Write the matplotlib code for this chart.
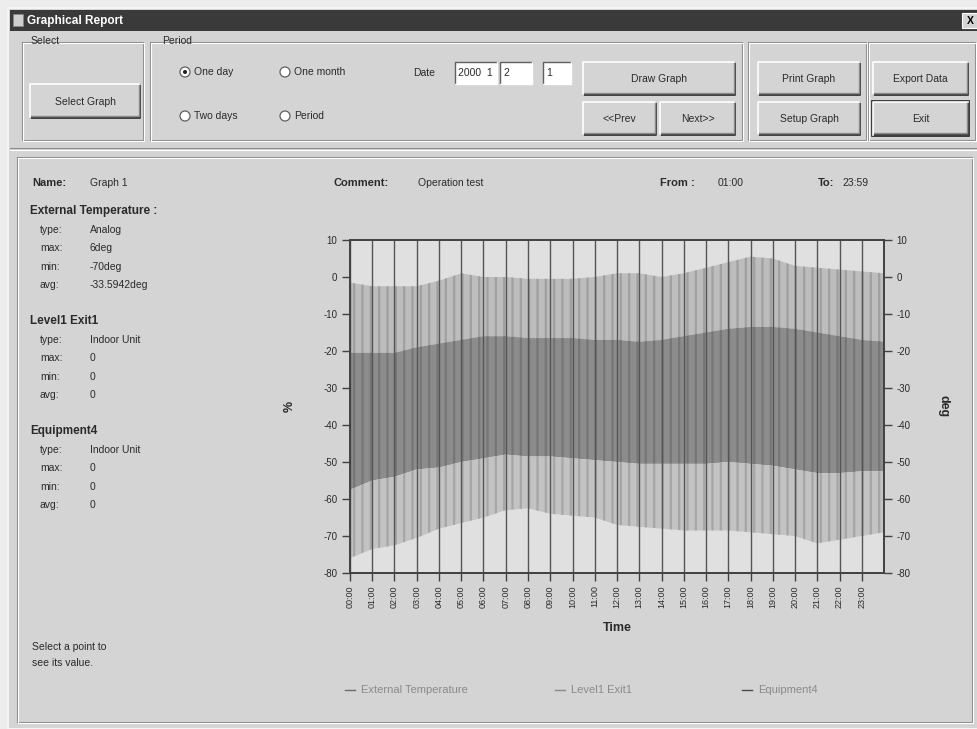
import matplotlib
matplotlib.use('Agg')
import matplotlib.pyplot as plt
from matplotlib.patches import Rectangle, Circle

# ---------------- data ----------------
hours = [0, 1, 2, 3, 4, 5, 6, 7, 8, 9, 10, 11, 12, 13, 14, 15, 16, 17, 18, 19, 20, 21, 22, 23, 24]
hour_ticks = [0, 1, 2, 3, 4, 5, 6, 7, 8, 9, 10, 11, 12, 13, 14, 15, 16, 17, 18, 19, 20, 21, 22, 23]
hour_labels = ["00:00", "01:00", "02:00", "03:00", "04:00", "05:00", "06:00", "07:00",
               "08:00", "09:00", "10:00", "11:00", "12:00", "13:00", "14:00", "15:00",
               "16:00", "17:00", "18:00", "19:00", "20:00", "21:00", "22:00", "23:00"]
# External temperature envelope (deg)
ext_max = [-1.5, -2.5, -2.5, -2.5, -1, 1, 0, 0, -0.5, -0.5, -0.5, 0, 1, 1, 0, 1,
           2.5, 4, 5.5, 5, 3, 2.5, 2, 1.5, 1]
band_top = [-20.5, -20.5, -20.5, -19, -18, -17, -16, -16, -16.5, -16.5, -16.5, -17, -17,
            -17.5, -17, -16, -15, -14, -13.5, -13.5, -14, -15, -16, -17, -17.5]
band_bottom = [-57.5, -55, -54, -52, -51.5, -50, -49, -48, -48.5, -48.5, -49, -49.5, -50,
               -50.5, -50.5, -50.5, -50.5, -50, -50.5, -51, -52, -53, -53, -52.5, -52.5]
ext_min = [-76, -73.5, -72.5, -70.5, -68, -66.5, -65, -63, -62.5, -64, -64.5, -65, -67,
           -67.5, -68, -68.5, -68.5, -68.5, -69, -69.5, -70, -72, -71, -70, -69]
y_ticks = [10, 0, -10, -20, -30, -40, -50, -60, -70, -80]
legend_names = ["External Temperature", "Level1 Exit1", "Equipment4"]

info_ext = [("type:", "Analog"), ("max:", "6deg"), ("min:", "-70deg"), ("avg:", "-33.5942deg")]
info_lvl = [("type:", "Indoor Unit"), ("max:", "0"), ("min:", "0"), ("avg:", "0")]
info_eq = [("type:", "Indoor Unit"), ("max:", "0"), ("min:", "0"), ("avg:", "0")]

# ---------------- figure ----------------
plt.rcParams['font.family'] = ['Liberation Sans', 'DejaVu Sans']
plt.rcParams['hatch.linewidth'] = 1.6
W, H = 978, 729
fig = plt.figure(figsize=(W / 100, H / 100), dpi=100)
fig.patch.set_facecolor('#ececec')

ui = fig.add_axes([0, 0, 1, 1])
ui.set_xlim(0, W)
ui.set_ylim(H, 0)
ui.axis('off')

BG = '#d4d4d4'
TXT = '#2a2a2a'

ui.add_patch(Rectangle((8, 8), W - 8, H - 8, facecolor=BG, edgecolor='#f4f4f4', lw=1.5))
# title bar
ui.add_patch(Rectangle((10, 10), W - 10, 21, facecolor='#3a3a3a', edgecolor='none'))
ui.add_patch(Rectangle((13, 14), 10, 12, facecolor='#cfcfcf', edgecolor='#888888', lw=0.6))
ui.text(27, 20.5, "Graphical Report", color='white', fontsize=8.5, fontweight='bold', va='center')
ui.add_patch(Rectangle((962, 13), 16, 15, facecolor=BG, edgecolor='#ffffff', lw=0.8))
ui.text(970, 20.5, "X", color='black', fontsize=7.5, fontweight='bold', va='center', ha='center')


def etched_rect(x0, y0, x1, y1):
    for off, col in ((0, '#8c8c8c'), (1, '#ffffff')):
        ui.plot([x0 + off, x1 + off, x1 + off, x0 + off, x0 + off],
                [y0 + off, y0 + off, y1 + off, y1 + off, y0 + off], color=col, lw=0.8)


def button(x0, y0, x1, y1, label, focus=False):
    ui.add_patch(Rectangle((x0, y0), x1 - x0, y1 - y0, facecolor=BG, edgecolor='none'))
    ui.plot([x0, x1, x1], [y1, y1, y0], color='#404040', lw=1.4)
    ui.plot([x0 + 1, x1 - 1, x1 - 1], [y1 - 2, y1 - 2, y0 + 1], color='#8a8a8a', lw=1)
    ui.plot([x0, x0, x1], [y1, y0, y0], color='#ffffff', lw=1.2)
    if focus:
        ui.add_patch(Rectangle((x0 - 1, y0 - 1), x1 - x0 + 2, y1 - y0 + 2, facecolor='none',
                               edgecolor='#202020', lw=1.2))
    ui.text((x0 + x1) / 2, (y0 + y1) / 2 + 0.5, label, fontsize=7.5, color=TXT, ha='center', va='center')


def radio(x, y, label, checked=False):
    ui.add_patch(Circle((x, y), 5, facecolor='white', edgecolor='#606060', lw=0.9))
    if checked:
        ui.add_patch(Circle((x, y), 2, facecolor='#202020', edgecolor='none'))
    ui.text(x + 9, y, label, fontsize=7.5, color=TXT, va='center')


def textbox(x0, y0, x1, y1, label):
    ui.add_patch(Rectangle((x0, y0), x1 - x0, y1 - y0, facecolor='white', edgecolor='none'))
    ui.plot([x0, x0, x1], [y1, y0, y0], color='#606060', lw=1)
    ui.plot([x0, x1, x1], [y1, y1, y0], color='#ffffff', lw=1)
    ui.text(x0 + 3, (y0 + y1) / 2, label, fontsize=7.5, color=TXT, va='center')


# top panel group boxes
etched_rect(22, 42, 143, 140)
ui.add_patch(Rectangle((29, 36), 28, 10, facecolor=BG, edgecolor='none'))
ui.text(31, 41, "Select", fontsize=7.5, color=TXT, va='center')
etched_rect(150, 42, 742, 140)
ui.add_patch(Rectangle((160, 36), 30, 10, facecolor=BG, edgecolor='none'))
ui.text(162, 41, "Period", fontsize=7.5, color=TXT, va='center')
etched_rect(748, 42, 866, 140)
etched_rect(868, 42, 975, 140)

button(30, 84, 140, 118, "Select Graph")
radio(185, 72, "One day", checked=True)
radio(285, 72, "One month")
radio(185, 116, "Two days")
radio(285, 116, "Period")
ui.text(413, 73, "Date", fontsize=7.5, color=TXT, va='center')
textbox(455, 62, 497, 84, "2000  1")
textbox(500, 62, 532, 84, "2")
textbox(543, 62, 571, 84, "1")
button(583, 62, 735, 95, "Draw Graph")
button(583, 102, 656, 135, "<<Prev")
button(660, 102, 735, 135, "Next>>")
button(758, 62, 860, 95, "Print Graph")
button(758, 102, 860, 135, "Setup Graph")
button(873, 62, 968, 95, "Export Data")
button(873, 102, 968, 135, "Exit", focus=True)

# lower panel frame
ui.plot([10, W], [148, 148], color='#8c8c8c', lw=0.8)
ui.plot([10, W], [149.5, 149.5], color='#ffffff', lw=0.8)
etched_rect(17, 157, 972, 722)

# header infos
ui.text(32, 183, "Name:", fontsize=8, fontweight='bold', color=TXT, va='center')
ui.text(90, 183, "Graph 1", fontsize=7.5, color=TXT, va='center')
ui.text(333, 183, "Comment:", fontsize=8, fontweight='bold', color=TXT, va='center')
ui.text(418, 183, "Operation test", fontsize=7.5, color=TXT, va='center')
ui.text(660, 183, "From :", fontsize=8, fontweight='bold', color=TXT, va='center')
ui.text(718, 183, "01:00", fontsize=7.5, color=TXT, va='center')
ui.text(818, 183, "To:", fontsize=8, fontweight='bold', color=TXT, va='center')
ui.text(842, 183, "23:59", fontsize=7.5, color=TXT, va='center')


def info_block(y, title, rows):
    ui.text(30, y, title, fontsize=8.5, fontweight='bold', color=TXT, va='center')
    for i, (k, v) in enumerate(rows):
        yy = y + 18.5 * (i + 1)
        ui.text(40, yy, k, fontsize=7.5, color=TXT, va='center')
        ui.text(90, yy, v, fontsize=7.5, color=TXT, va='center')


info_block(211, "External Temperature :", info_ext)
info_block(321, "Level1 Exit1", info_lvl)
info_block(431, "Equipment4", info_eq)
ui.text(32, 647, "Select a point to", fontsize=7.5, color=TXT, va='center')
ui.text(32, 663, "see its value.", fontsize=7.5, color=TXT, va='center')

# ---------------- chart ----------------
ax = fig.add_axes([350 / W, (H - 573) / H, 534 / W, 333 / H])
ax.set_facecolor('#e0e0e0')
ax.fill_between(hours, ext_max, band_top, facecolor='#bdbdbd', edgecolor='#a0a0a0',
                hatch='||', linewidth=0, zorder=1)
ax.fill_between(hours, band_top, band_bottom, facecolor='#8c8c8c', edgecolor='#767676',
                hatch='||', linewidth=0, zorder=1)
ax.fill_between(hours, band_bottom, ext_min, facecolor='#c3c3c3', edgecolor='#a6a6a6',
                hatch='||', linewidth=0, zorder=1)
ax.set_xlim(0, 24)
ax.set_ylim(-80, 10)
ax.set_xticks(hour_ticks)
ax.set_xticklabels(hour_labels, rotation=90, fontsize=6.5, color=TXT)
ax.set_yticks(y_ticks)
ax.set_yticklabels([str(v) for v in y_ticks], fontsize=7, color=TXT)
ax.tick_params(axis='both', direction='out', length=6, width=1, color='#404040', pad=3)
ax.grid(axis='x', color='#555555', lw=1, zorder=2)
ax.set_axisbelow(False)
for s in ax.spines.values():
    s.set_color('#404040')
    s.set_linewidth(1.2)
ax.set_ylabel("%", fontsize=9, fontweight='bold', color=TXT, labelpad=20)
ax.set_xlabel("Time", fontsize=9, fontweight='bold', color=TXT, labelpad=10)

ax2 = ax.twinx()
ax2.set_ylim(-80, 10)
ax2.set_yticks(y_ticks)
ax2.set_yticklabels([str(v) for v in y_ticks], fontsize=7, color=TXT)
ax2.tick_params(axis='y', direction='out', length=6, width=1, color='#404040', pad=3)
ax2.set_ylabel("deg", fontsize=9, fontweight='bold', color=TXT, rotation=270, labelpad=28)
for s in ax2.spines.values():
    s.set_color('#404040')
    s.set_linewidth(1.2)

# legend
leg_x = [345, 555, 742]
for x0, name, lc in zip(leg_x, legend_names, ['#6a6a6a', '#8a8a8a', '#4a4a4a']):
    ui.plot([x0, x0 + 10], [690, 690], color=lc, lw=1)
    ui.text(x0 + 16, 690, name, fontsize=8, color='#8a8a8a', va='center')

fig.savefig('out.png', dpi=100, facecolor=fig.get_facecolor())
